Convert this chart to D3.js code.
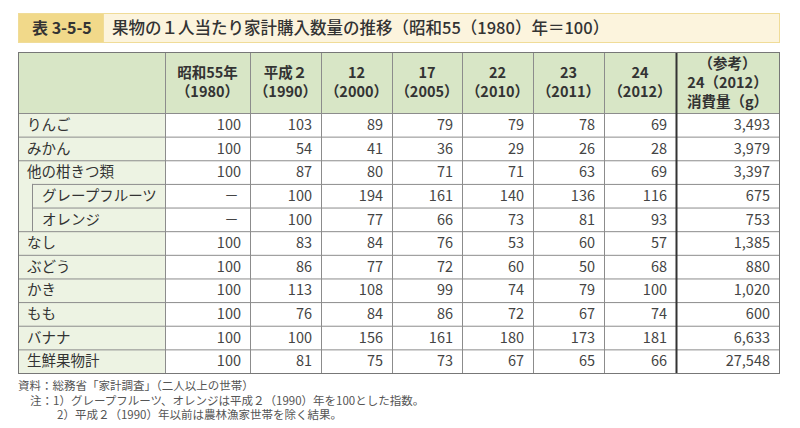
<!DOCTYPE html>
<meta charset="utf-8">
<script src="https://d3js.org/d3.v7.min.js"></script>
<style>
  body { margin: 0; background: #fff; }
  text { font-family: "Noto Sans CJK JP", "Noto Sans", sans-serif; }
</style>
<div id="table"></div>
<script>

  // header labels for each column (lines)
  const headers = [
    ["昭和55年", "（1980）"],
    ["平成２", "（1990）"],
    ["12", "（2000）"],
    ["17", "（2005）"],
    ["22", "（2010）"],
    ["23", "（2011）"],
    ["24", "（2012）"],
    ["（参考）", "24（2012）", "消費量（g）"]
  ];

  const items = ["りんご", "みかん", "他の柑きつ類", "グレープフルーツ", "オレンジ",
                 "なし", "ぶどう", "かき", "もも", "バナナ", "生鮮果物計"];
  const subItems = ["グレープフルーツ", "オレンジ"];

  // index values (null = －)
  const values = [
    [100, 103, 89, 79, 79, 78, 69],
    [100, 54, 41, 36, 29, 26, 28],
    [100, 87, 80, 71, 71, 63, 69],
    [null, 100, 194, 161, 140, 136, 116],
    [null, 100, 77, 66, 73, 81, 93],
    [100, 83, 84, 76, 53, 60, 57],
    [100, 86, 77, 72, 60, 50, 68],
    [100, 113, 108, 99, 74, 79, 100],
    [100, 76, 84, 86, 72, 67, 74],
    [100, 100, 156, 161, 180, 173, 181],
    [100, 81, 75, 73, 67, 65, 66]
  ];
  // consumption 2012 (g)
  const consumption = [3493, 3979, 3397, 675, 753, 1385, 880, 1020, 600, 6633, 27548];

  const notes = [
    "資料：総務省「家計調査」（二人以上の世帯）",
    "注：1）グレープフルーツ、オレンジは平成２（1990）年を100とした指数。",
    "2）平成２（1990）年以前は農林漁家世帯を除く結果。"
  ];

  const width = 800, height = 428;
  const svg = d3.select("#table").append("svg")
    .attr("width", width).attr("height", height);

  // title bar
  svg.append("rect").attr("x", 18.5).attr("y", 13.5).attr("width", 761).attr("height", 29)
    .attr("fill", "#fcf4dd").attr("stroke", "#f0dc98");
  svg.append("rect").attr("x", 18.5).attr("y", 13.5).attr("width", 85).attr("height", 29)
    .attr("fill", "#f1d98a").attr("stroke", "#f0dc98");
  svg.append("text").attr("x", 32).attr("y", 34)
    .attr("font-size", 16).attr("font-weight", 700).attr("fill", "#333")
    .text("表 3-5-5");
  svg.append("text").attr("x", 112).attr("y", 34)
    .attr("font-size", 16.5).attr("font-weight", 500).attr("fill", "#333")
    .text("果物の１人当たり家計購入数量の推移（昭和55（1980）年＝100）");

  // columns: label column + 8 data columns
  const colEdges = [18, 165, 250, 321, 392, 462, 533, 604, 676, 779];
  const tableTop = 52, headBottom = 113, tableBottom = 373;

  const y = d3.scaleBand().domain(items).range([headBottom, tableBottom]);

  const g = svg.append("g");

  // backgrounds
  g.append("rect").attr("x", colEdges[0]).attr("y", tableTop)
    .attr("width", colEdges[9] - colEdges[0]).attr("height", headBottom - tableTop)
    .attr("fill", "#d8e6c6");
  g.append("rect").attr("x", colEdges[0]).attr("y", headBottom)
    .attr("width", colEdges[1] - colEdges[0]).attr("height", tableBottom - headBottom)
    .attr("fill", "#edf3e3");

  // header text
  headers.forEach(function(lines, i) {
    const cx = (colEdges[i + 1] + colEdges[i + 2]) / 2;
    const lh = 19;
    const y0 = (tableTop + headBottom) / 2 - (lines.length - 1) * lh / 2;
    lines.forEach(function(t, j) {
      g.append("text").attr("x", cx).attr("y", y0 + j * lh)
        .attr("dy", "0.36em").attr("text-anchor", "middle")
        .attr("font-size", 14.5).attr("font-weight", 700).attr("fill", "#333")
        .text(t);
    });
  });

  // row labels
  g.selectAll("text.item").data(items).join("text")
    .attr("class", "item")
    .attr("x", d => subItems.includes(d) ? 42 : 27)
    .attr("y", d => y(d) + y.bandwidth() / 2)
    .attr("dy", "0.36em")
    .attr("font-size", 14.5).attr("fill", "#333")
    .text(d => d);

  // values
  const fmt = d3.format(",");
  items.forEach(function(item, r) {
    const row = values[r].concat([consumption[r]]);
    row.forEach(function(v, c) {
      const x1 = colEdges[c + 2];
      g.append("text")
        .attr("x", v === null ? (colEdges[c + 1] + x1) / 2 + 24 : x1 - 9)
        .attr("y", y(item) + y.bandwidth() / 2)
        .attr("dy", "0.36em")
        .attr("text-anchor", v === null ? "middle" : "end")
        .attr("font-size", 14.5).attr("fill", "#444")
        .text(v === null ? "－" : fmt(v));
    });
  });

  // horizontal lines
  const lineColor = "#8c8c8c";
  items.forEach(function(item, r) {
    if (r === 0) return;
    const x0 = (subItems.includes(item)) ? 32 : colEdges[0];
    g.append("line").attr("x1", x0).attr("x2", colEdges[9])
      .attr("y1", y(item) + 0.5).attr("y2", y(item) + 0.5)
      .attr("stroke", lineColor).attr("stroke-width", 1);
  });
  g.append("line").attr("x1", colEdges[0]).attr("x2", colEdges[9])
    .attr("y1", headBottom + 0.5).attr("y2", headBottom + 0.5)
    .attr("stroke", lineColor).attr("stroke-width", 1);

  // indent line for sub items
  g.append("line").attr("x1", 32.5).attr("x2", 32.5)
    .attr("y1", y(subItems[0])).attr("y2", y(subItems[1]) + y.bandwidth())
    .attr("stroke", lineColor);

  // vertical lines
  colEdges.slice(1, 9).forEach(function(x, i) {
    g.append("line").attr("x1", x + 0.5).attr("x2", x + 0.5)
      .attr("y1", tableTop).attr("y2", tableBottom)
      .attr("stroke", i === 7 ? "#333" : lineColor)
      .attr("stroke-width", i === 7 ? 2 : 1);
  });

  // outer border
  g.append("rect").attr("x", colEdges[0] + 0.5).attr("y", tableTop + 0.5)
    .attr("width", colEdges[9] - colEdges[0]).attr("height", tableBottom - tableTop)
    .attr("fill", "none").attr("stroke", "#777").attr("stroke-width", 1);

  // notes
  const noteX = [18, 30, 57];
  notes.forEach(function(t, i) {
    svg.append("text").attr("x", noteX[i]).attr("y", 390 + i * 14.5)
      .attr("font-size", 11.5).attr("fill", "#555").text(t);
  });

</script>
